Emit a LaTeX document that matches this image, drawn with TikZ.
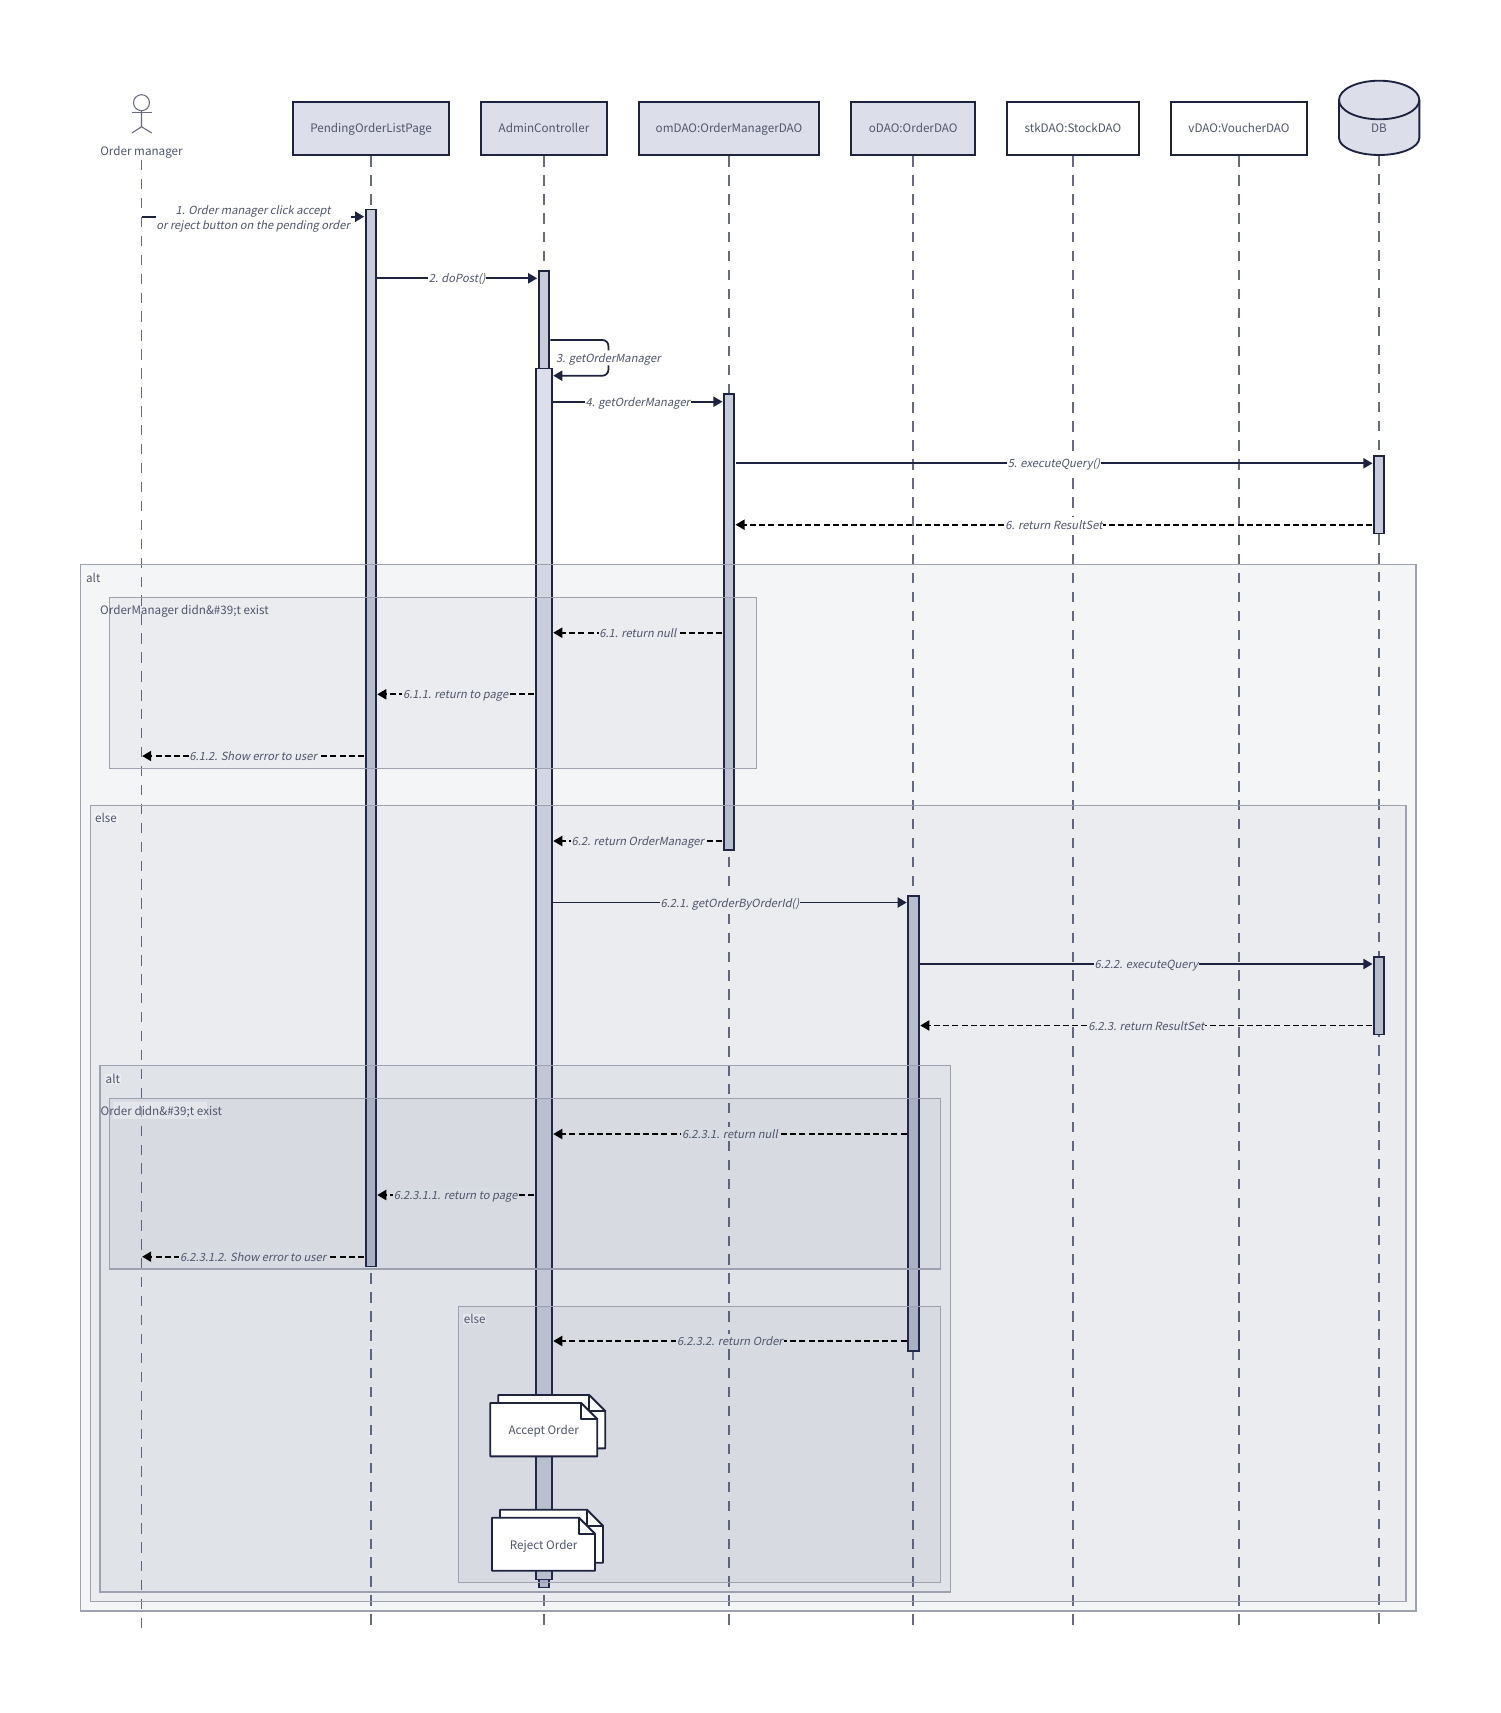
\documentclass[tikz,border=0pt]{standalone}
\usepackage{fontspec}
\setmainfont{Noto Sans CJK SC}
\newfontfamily\msgfont[FakeSlant=0.2]{Noto Sans CJK SC}
\usetikzlibrary{arrows.meta}
\definecolor{ink}{HTML}{1E2340}
\definecolor{txt}{HTML}{50556B}
\definecolor{life}{HTML}{666B82}
\definecolor{headfill}{HTML}{DCDFEA}
\definecolor{barfill}{HTML}{C8CCDA}
\definecolor{framefill}{HTML}{3C4A6E}
\definecolor{frameline}{HTML}{9EA2B0}
\definecolor{fb}{HTML}{EAECF0}
\definecolor{fc}{HTML}{D7DBE2}
\newcommand{\px}{0.75pt}
\tikzset{
  headbox/.style={draw=ink,line width=1.5pt,fill=headfill,inner sep=0pt,text=txt,text height=8.3pt,text depth=2pt,font=\fontsize{8.75pt}{11pt}\selectfont},
  plainbox/.style={headbox,fill=white},
  lifeline/.style={draw=life,line width=1.1pt,dash pattern=on 7.8pt off 6.4pt},
  barbox/.style={draw=ink,line width=1.3pt,fill=barfill,inner sep=0pt,anchor=north},
  msg/.style={draw=ink,line width=1.3pt,-{Triangle[length=6.8pt,width=7.6pt]},shorten >=0.5pt,shorten <=0.6pt},
  ret/.style={msg,draw=black,dash pattern=on 4.5pt off 2.4pt},
  lbl/.style={font=\msgfont\fontsize{8.4pt}{11.3pt}\selectfont,text=txt,inner sep=0.6pt,align=center,text height=8.5pt,text depth=1.5pt},
  frameb/.style={draw=frameline,line width=1pt,fill=framefill,fill opacity=0.055},
  tag/.style={font=\fontsize{8.75pt}{11pt}\selectfont,text=txt,inner sep=0.5pt,fill=white,fill opacity=0.35,text opacity=1},
  stick/.style={draw=life,line width=0.8pt},
  notefront/.style={draw=ink,line width=1.4pt,fill=white,line join=round},
  notetext/.style={font=\fontsize{8.75pt}{11pt}\selectfont,text=txt,inner sep=0pt},
}
\newcommand{\docnote}[4]{%
  \draw[notefront] (#1,#2) -- ({#3-16},#2) -- (#3,{#2+16}) -- (#3,#4) -- (#1,#4) -- cycle;
  \draw[notefront,fill=none] ({#3-16},#2) -- ({#3-16},{#2+16}) -- (#3,{#2+16});
}
\begin{document}
\begin{tikzpicture}[x=0.75pt,y=-0.75pt]
\useasboundingbox (0,0) rectangle (1500,1713);

% heads
\node[notetext] (actor) at (141.5,152.5) {Order manager};
\node[headbox,minimum width=156.5*\px,minimum height=53.3*\px] (page) at (371,128.7) {PendingOrderListPage};
\node[headbox,minimum width=126*\px,minimum height=53.3*\px] (admin) at (544,128.7) {AdminController};
\node[headbox,minimum width=180.5*\px,minimum height=53.3*\px] (om) at (729,128.7) {omDAO:OrderManagerDAO};
\node[headbox,minimum width=124.5*\px,minimum height=53.3*\px] (od) at (913.2,128.7) {oDAO:OrderDAO};
\node[plainbox,minimum width=132.4*\px,minimum height=53.3*\px] (stk) at (1073,128.7) {stkDAO:StockDAO};
\node[plainbox,minimum width=136.2*\px,minimum height=53.3*\px] (vd) at (1239,128.7) {vDAO:VoucherDAO};

% cylinder
\draw[draw=ink,line width=1.4pt,fill=headfill]
  (1339,100) -- (1339,138) arc[start angle=180,end angle=0,x radius=40.15,y radius=17]
  -- (1419.3,100) arc[start angle=0,end angle=-180,x radius=40.15,y radius=19.3] -- cycle;
\draw[draw=ink,line width=1.4pt] (1339,100) arc[start angle=180,end angle=0,x radius=40.15,y radius=19.3];
\node[notetext] (db) at (1379,128.2) {DB};
\coordinate (dbfoot) at (1379,155.5);

% actor figure
\draw[stick] (141.5,102.7) circle[radius=8];
\draw[stick] (131.6,112.7) -- (151.8,112.7);
\draw[stick] (141.5,110.7) -- (141.5,126.7) -- (132,133);
\draw[stick] (141.5,126.7) -- (151.8,133);

% lifeline ends
\coordinate (endactor) at (141.5,1631.7);
\coordinate (endpage) at (371,1631.7);
\coordinate (endadmin) at (544,1631.7);
\coordinate (endom) at (729,1631.7);
\coordinate (endod) at (913.2,1631.7);
\coordinate (endstk) at (1073,1631.7);
\coordinate (endvd) at (1239,1631.7);
\coordinate (enddb) at (1379,1631.7);
\draw[lifeline] (141.5,160) -- (endactor);
\draw[lifeline] (page.south) -- (endpage);
\draw[lifeline] (admin.south) -- (endadmin);
\draw[lifeline] (om.south) -- (endom);
\draw[lifeline] (od.south) -- (endod);
\draw[lifeline] (stk.south) -- (endstk);
\draw[lifeline] (vd.south) -- (endvd);
\draw[lifeline] (dbfoot) -- (enddb);

% activation bars
\node[barbox,minimum width=10*\px,minimum height=1057*\px] (pagebar) at (370.7,208.7) {};
\node[barbox,minimum width=10*\px,minimum height=1316.4*\px] (adminbar) at (543.7,270.3) {};
\node[barbox,fill=headfill,minimum width=16*\px,minimum height=1211*\px] (adminbarb) at (543.7,367.7) {};
\node[barbox,minimum width=10*\px,minimum height=455.7*\px] (ombar) at (729,393.3) {};
\node[barbox,minimum width=10.5*\px,minimum height=455.5*\px] (odbar) at (913.5,894.8) {};
\node[barbox,minimum width=10*\px,minimum height=77.7*\px] (dbbara) at (1379,455) {};
\node[barbox,minimum width=10*\px,minimum height=77.5*\px] (dbbarb) at (1379,956) {};

% frames
\draw[frameb] (80.5,564.7) rectangle (1416,1611);
\draw[frameb] (109.5,597.3) rectangle (756.4,768.3);
\draw[frameb] (90.4,805.7) rectangle (1406,1601.3);
\draw[frameb] (100,1065.3) rectangle (950.3,1592);
\draw[frameb] (109.3,1098.7) rectangle (940.7,1269);
\draw[frameb] (458.3,1306.3) rectangle (940.7,1582.3);

% frame labels
\node[tag,anchor=west] (altA) at (85.2,578) {alt};
\node[tag,anchor=west,fill opacity=0] (optA) at (99.3,611.5) {OrderManager didn\&\#39;t exist};
\node[tag,anchor=west] (elseA) at (94.2,818) {else};
\node[tag,anchor=west] (altB) at (104.8,1079) {alt};
\fill[white,fill opacity=0.35] (113.3,1102) rectangle (207.3,1119);
\node[tag,anchor=west,fill opacity=0] (optB) at (99.7,1112.2) {Order didn\&\#39;t exist};
\node[tag,anchor=west] (elseB) at (463,1319) {else};

% notes
\docnote{498.3}{1395}{605.3}{1448.3}
\docnote{490.3}{1403}{597.3}{1456.3}
\node[notetext] (accept) at (543.7,1431.5) {Accept Order};
\docnote{500}{1509.7}{603}{1562.7}
\docnote{492}{1517.7}{595}{1570.7}
\node[notetext] (reject) at (543.7,1546.5) {Reject Order};

% messages
\draw[msg] (141.5,216.7) -- node[lbl,fill=white,midway,yshift=-6.3pt,inner ysep=7pt] {1. Order manager click accept\\or reject button on the pending order} (pagebar.west |- 0,216.7);
\draw[msg] (pagebar.east |- 0,278.3) -- node[lbl,fill=white,midway] {2. doPost()} (adminbar.west |- 0,278.3);
\draw[msg,rounded corners=4.5pt] (adminbar.east |- 0,340) -- (608.4,340) -- node[lbl,fill=white,midway] {3. getOrderManager} (608.4,375.7) -- (adminbarb.east |- 0,375.7);
\draw[msg] (adminbarb.east |- 0,401.7) -- node[lbl,fill=white,midway] {4. getOrderManager} (ombar.west |- 0,401.7);
\draw[msg] (ombar.east |- 0,463.3) -- node[lbl,fill=white,midway] {5. executeQuery()} (dbbara.west |- 0,463.3);
\draw[ret] (dbbara.west |- 0,524.7) -- node[lbl,fill=white,midway] {6. return ResultSet} (ombar.east |- 0,524.7);
\draw[ret] (ombar.west |- 0,632.7) -- node[lbl,fill=fb,midway] {6.1. return null} (adminbarb.east |- 0,632.7);
\draw[ret] (adminbarb.west |- 0,694.3) -- node[lbl,fill=fb,midway] {6.1.1. return to page} (pagebar.east |- 0,694.3);
\draw[ret] (pagebar.west |- 0,756) -- node[lbl,fill=fb,midway] {6.1.2. Show error to user} (141.5,756);
\draw[ret] (ombar.west |- 0,841) -- node[lbl,fill=fb,midway] {6.2. return OrderManager} (adminbarb.east |- 0,841);
\draw[msg] (adminbarb.east |- 0,902.5) -- node[lbl,fill=fb,midway] {6.2.1. getOrderByOrderId()} (odbar.west |- 0,902.5);
\draw[msg] (odbar.east |- 0,964) -- node[lbl,fill=fb,midway] {6.2.2. executeQuery} (dbbarb.west |- 0,964);
\draw[ret] (dbbarb.west |- 0,1025.5) -- node[lbl,fill=fb,midway] {6.2.3. return ResultSet} (odbar.east |- 0,1025.5);
\draw[ret] (odbar.west |- 0,1134) -- node[lbl,fill=fc,midway] {6.2.3.1. return null} (adminbarb.east |- 0,1134);
\draw[ret] (adminbarb.west |- 0,1195) -- node[lbl,fill=fc,midway] {6.2.3.1.1. return to page} (pagebar.east |- 0,1195);
\draw[ret] (pagebar.west |- 0,1256.7) -- node[lbl,fill=fc,midway] {6.2.3.1.2. Show error to user} (141.5,1256.7);
\draw[ret] (odbar.west |- 0,1341) -- node[lbl,fill=fc,midway] {6.2.3.2. return Order} (adminbarb.east |- 0,1341);
\end{tikzpicture}
\end{document}
